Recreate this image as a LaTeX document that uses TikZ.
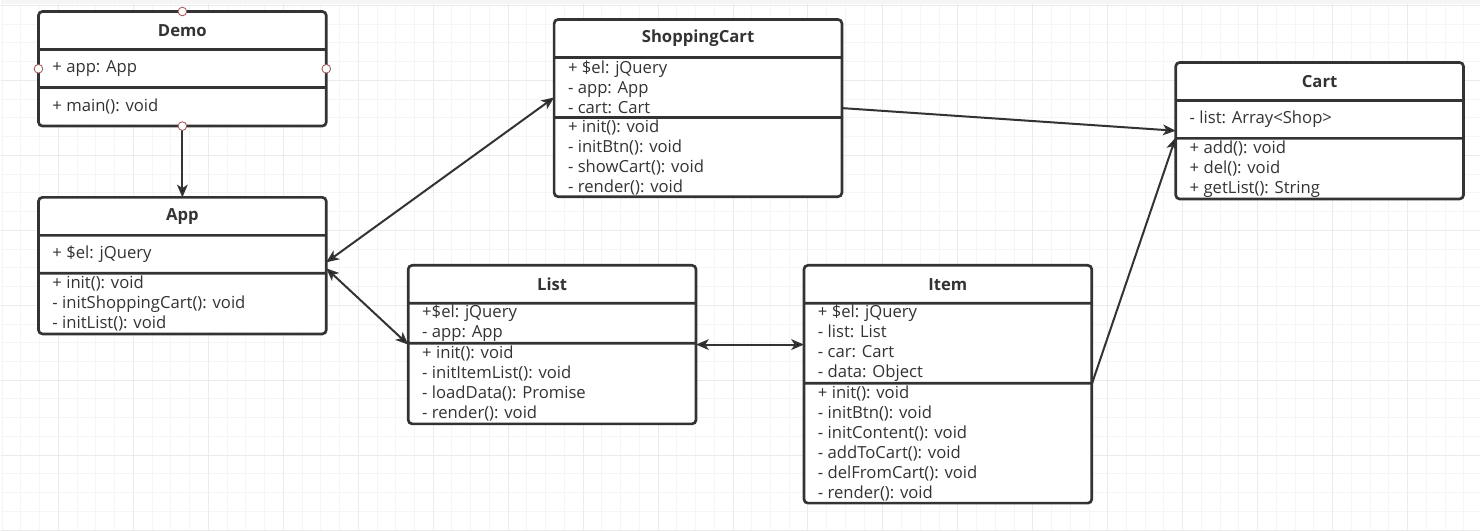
\documentclass[tikz,border=0pt]{standalone}
\usepackage{fontspec}
\setmainfont{Open Sans}
\usetikzlibrary{shapes.multipart, arrows.meta, positioning}

\definecolor{umlline}{HTML}{333333}
\definecolor{portred}{HTML}{A05050}
\newcommand{\umlrow}[2]{\parbox[c][#1][c]{195pt}{\setlength{\baselineskip}{15pt}#2}}

\begin{document}
\begin{tikzpicture}[x=0.75pt, y=-0.75pt,
  umlclass/.style={rectangle split, rectangle split parts=3, rounded corners=3pt, draw=umlline, line width=2pt, fill=white, inner xsep=10.5pt, inner ysep=0pt, outer sep=0pt, anchor=north west, text=umlline, font=\fontsize{12.5pt}{15pt}\selectfont},
  port/.style={circle, draw=portred, fill=white, line width=0.6pt, inner sep=0pt, minimum size=6.5pt},
  gridminor/.style={draw=gray!8, line width=0.75pt, step=14.0625pt},
  gridmajor/.style={draw=gray!16, line width=0.75pt, step=56.25pt},
  arrow/.style={line width=1.5pt, draw=umlline, >={Stealth[length=9.5pt, width=8pt, inset=2.5pt]}}]

  % Background grid
  \fill[white] (0,0) rectangle (1480,530);
  \draw[gridminor, shift={(58,5)}] (-58,525) grid (1422,-5);
  \draw[gridmajor, shift={(58,5)}] (-58,525) grid (1422,-5);
  \fill[gray!8] (0,0) rectangle (1480,4);
  \useasboundingbox (0,0) rectangle (1480,530);

  % Classes
  \node (demo) [umlclass] at (38,11) {\umlrow{26.5pt}{\centering\bfseries Demo}
    \nodepart{two}\umlrow{26.5pt}{+ app: App}
    \nodepart{three}\umlrow{27pt}{+ main(): void}};
  \node (app) [umlclass] at (38,197) {\umlrow{26.5pt}{\centering\bfseries App}
    \nodepart{two}\umlrow{26.5pt}{+ \$el: jQuery}
    \nodepart{three}\umlrow{43.5pt}{+ init(): void\\- initShoppingCart(): void\\- initList(): void}};
  \node (shopcart) [umlclass] at (554,19) {\umlrow{26.5pt}{\centering\bfseries ShoppingCart}
    \nodepart{two}\umlrow{43pt}{+ \$el: jQuery\\- app: App\\- cart: Cart}
    \nodepart{three}\umlrow{57.5pt}{+ init(): void\\- initBtn(): void\\- showCart(): void\\- render(): void}};
  \node (cart) [umlclass] at (1176,62) {\umlrow{26.5pt}{\centering\bfseries Cart}
    \nodepart{two}\umlrow{26.5pt}{- list: Array<Shop>}
    \nodepart{three}\umlrow{43.5pt}{+ add(): void\\+ del(): void\\+ getList(): String}};
  \node (list) [umlclass] at (408,265) {\umlrow{26.5pt}{\centering\bfseries List}
    \nodepart{two}\umlrow{28pt}{+\$el: jQuery\\- app: App}
    \nodepart{three}\umlrow{58.5pt}{+ init(): void\\- initItemList(): void\\- loadData(): Promise\\- render(): void}};
  \node (item) [umlclass] at (804,265) {\umlrow{26.5pt}{\centering\bfseries Item}
    \nodepart{two}\umlrow{58pt}{+ \$el: jQuery\\- list: List\\- car: Cart\\- data: Object}
    \nodepart{three}\umlrow{88pt}{+ init(): void\\- initBtn(): void\\- initContent(): void\\- addToCart(): void\\- delFromCart(): void\\- render(): void}};

  % Arrows
  \draw [arrow, ->] (demo.south) -- (app.north);
  \draw [arrow, <->] ([yshift=2.5pt]app.east) -- ([yshift=8pt]shopcart.west);
  \draw [arrow, <->] ([yshift=-2pt]app.east) -- (list.west);
  \draw [arrow, <->] (list.east) -- (list.east -| item.west);
  \draw [arrow, ->] (shopcart.east) -- (cart.west);
  \draw [arrow, ->] (item.east) -- ([yshift=-5pt]cart.west);

  % Connection points
  \foreach \side in {north, west, east, south}
    \node (demo-\side) [port] at (demo.\side) {};
\end{tikzpicture}
\end{document}
